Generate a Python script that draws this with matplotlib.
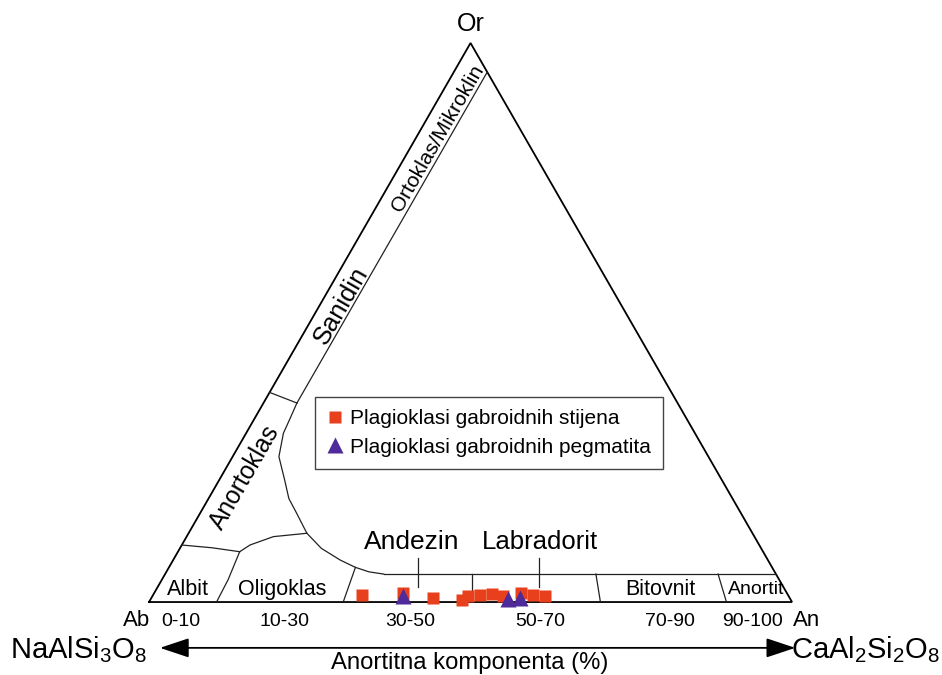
import numpy as np
import matplotlib
matplotlib.use('Agg')
import matplotlib.pyplot as plt

plt.rcParams['font.family'] = ['Liberation Sans', 'DejaVu Sans']
plt.rcParams['mathtext.default'] = 'regular'

# measured points (An %, Or %)
gabbro_an = [32.4, 38.7, 43.7, 48.4, 49.1, 50.8, 52.6, 54.6, 57.0, 59.1, 61.1]
gabbro_or = [1.3, 1.6, 0.8, 0.4, 1.0, 1.3, 1.4, 1.0, 1.7, 1.3, 1.0]
pegm_an = [39.0, 55.6, 57.3]
pegm_or = [1.1, 0.5, 0.7]

# field boundaries, (An, Or) pairs
kfs_line = [(5.2, 94.8), (5.2, 35.6)]
san_ano = [(0, 37.5), (5.2, 35.6)]
big_curve = [(5.2, 35.6), (5.5, 33.0), (5.8, 30.2), (7.2, 26.0), (10.2, 21.8),
             (12.5, 18.5), (15.0, 15.9), (18.4, 12.3), (22.0, 9.6), (26.0, 7.5),
             (29.0, 6.2), (31.5, 5.4), (34.0, 5.0)]
band_top = [(34.0, 5.0), (95.0, 5.0)]
albit_top = [(0, 10.2), (5.0, 9.7), (9.6, 9.0)]
albit_olig = [(9.6, 9.0), (10.3, 4.0), (10.5, 0)]
olig_ano = [(9.6, 9.0), (10.6, 10.2), (13.5, 11.7), (18.4, 12.3)]
olig_and = [(30.2, 0), (29.0, 6.2)]
and_lab = [(50.3, 0), (47.8, 5.0)]
lab_byt = [(70.2, 0), (67.0, 5.0)]
byt_an = [(89.8, 0), (86.0, 5.0)]

band_names = ['Albit', 'Oligoklas', 'Bitovnit', 'Anortit']
range_labels = ['0-10', '10-30', '30-50', '50-70', '70-90', '90-100']


def tern(pts):
    # (An, Or) -> cartesian in triangle with side 100
    a = np.array(pts, dtype=float)
    x = a[:, 0] + a[:, 1] / 2
    y = a[:, 1] * np.sqrt(3) / 2
    return x, y


fig = plt.figure(figsize=(9.42, 6.75), dpi=100)
ax = fig.add_axes([0.1582, 0.1081, 0.6826, 0.8282])
ax.set_xlim(0, 100)
ax.set_ylim(0, 100 * np.sqrt(3) / 2)
ax.axis('off')

# outline
x, y = tern([(0, 0), (100, 0), (0, 100), (0, 0)])
ax.plot(x, y, color='black', lw=1.3, clip_on=False, solid_joinstyle='miter')

for b in [kfs_line, san_ano, big_curve, band_top, albit_top, albit_olig,
          olig_ano, olig_and, and_lab, lab_byt, byt_an]:
    x, y = tern(b)
    ax.plot(x, y, color='#222222', lw=0.9)

# leader lines for Andezin / Labradorit
ax.plot([41.9, 41.9], [2.3, 6.8], color='#222222', lw=0.9)
ax.plot([60.65, 60.65], [2.3, 6.8], color='#222222', lw=0.9)

x, y = tern(list(zip(gabbro_an, gabbro_or)))
ax.plot(x, y, 's', color='#e8401c', ms=8, mec='none', clip_on=False,
        label='Plagioklasi gabroidnih stijena')
x, y = tern(list(zip(pegm_an, pegm_or)))
ax.plot(x, y, '^', color='#4f2a9a', ms=11, mec='none', clip_on=False,
        label='Plagioklasi gabroidnih pegmatita')

leg = ax.legend(loc='upper left', bbox_to_anchor=(0.334, 0.412),
                bbox_transform=fig.transFigure, borderaxespad=0,
                fancybox=False, fontsize=15, handlelength=0.8,
                handletextpad=0.3, borderpad=0.6, labelspacing=0.45,
                edgecolor='#444444', framealpha=1)
leg.get_frame().set_linewidth(1.0)

kw = dict(ha='center', va='center', clip_on=False)
ax.text(50.1, 89.5, 'Or', fontsize=18, **kw)
ax.text(44.9, 71.8, 'Ortoklas/Mikroklin', fontsize=15, rotation=60, **kw)
ax.text(29.9, 45.9, 'Sanidin', fontsize=18.4, rotation=60, **kw)
ax.text(14.9, 19.3, 'Anortoklas', fontsize=17.7, rotation=60, **kw)
ax.text(40.9, 9.3, 'Andezin', fontsize=19, **kw)
ax.text(60.8, 9.3, 'Labradorit', fontsize=18.5, **kw)

for name, px in zip(band_names, [6.1, 20.7, 79.5, 94.4]):
    ax.text(px, 2.0, name, fontsize=15.5 if name != 'Anortit' else 14, **kw)
for lab, px in zip(range_labels, [5.0, 21.0, 40.6, 60.8, 81.0, 93.8]):
    ax.text(px, -3.0, lab, fontsize=14, **kw)

ax.text(-2.0, -2.9, 'Ab', fontsize=16, **kw)
ax.text(102.2, -2.9, 'An', fontsize=16, **kw)
ax.text(-21.6, -7.3, 'NaAlSi$_3$O$_8$', fontsize=21, ha='left', va='center', clip_on=False)
ax.text(123.0, -7.3, 'CaAl$_2$Si$_2$O$_8$', fontsize=21, ha='right', va='center', clip_on=False)
ax.annotate('', xy=(100.5, -7.1), xytext=(1.7, -7.1), annotation_clip=False,
            arrowprops=dict(arrowstyle='<|-|>,head_length=1.8,head_width=0.6',
                            color='black', lw=1.3, shrinkA=0, shrinkB=0))
ax.text(49.9, -9.5, 'Anortitna komponenta (%)', fontsize=17.2, **kw)

fig.savefig('out.png', dpi=100)
